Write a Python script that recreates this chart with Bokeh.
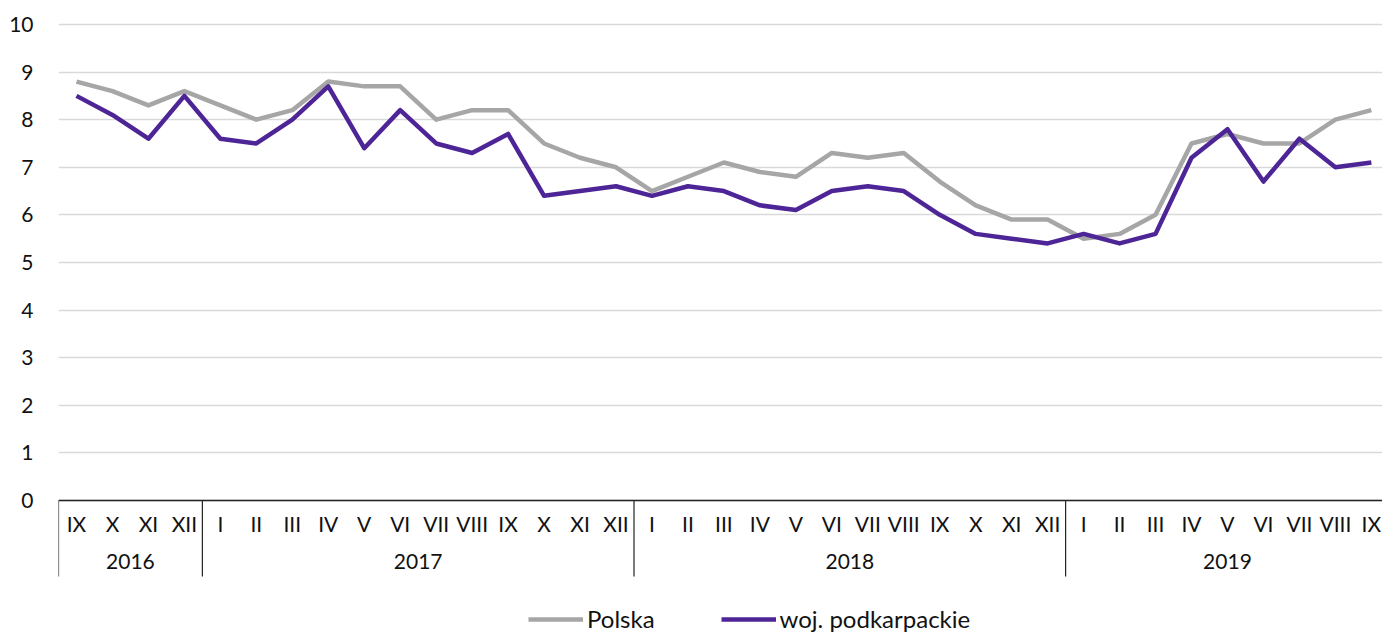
from bokeh.plotting import figure
from bokeh.models import Range1d, FixedTicker, ColumnDataSource, Span, Legend, LegendItem
from bokeh.core.properties import value
from bokeh.embed import file_html
from bokeh.resources import INLINE

roman = ["I", "II", "III", "IV", "V", "VI", "VII", "VIII", "IX", "X", "XI", "XII"]
months = roman[8:] + roman + roman + roman[:9]
years = ["2016"] * 4 + ["2017"] * 12 + ["2018"] * 12 + ["2019"] * 9
polska = [8.8, 8.6, 8.3, 8.6,
          8.3, 8.0, 8.2, 8.8, 8.7, 8.7, 8.0, 8.2, 8.2, 7.5, 7.2, 7.0,
          6.5, 6.8, 7.1, 6.9, 6.8, 7.3, 7.2, 7.3, 6.7, 6.2, 5.9, 5.9,
          5.5, 5.6, 6.0, 7.5, 7.7, 7.5, 7.5, 8.0, 8.2]
podkarpackie = [8.5, 8.1, 7.6, 8.5,
                7.6, 7.5, 8.0, 8.7, 7.4, 8.2, 7.5, 7.3, 7.7, 6.4, 6.5, 6.6,
                6.4, 6.6, 6.5, 6.2, 6.1, 6.5, 6.6, 6.5, 6.0, 5.6, 5.5, 5.4,
                5.6, 5.4, 5.6, 7.2, 7.8, 6.7, 7.6, 7.0, 7.1]
y_ticks = list(range(0, 11))

idx = list(range(len(months)))
LABEL_FONT = "Lato"
TXT = "#111111"

p = figure(width=1382, height=636, output_backend="svg", toolbar_location=None,
           x_range=Range1d(-0.5, 36.31), y_range=Range1d(-2.86, 10.21),
           min_border_left=58, min_border_right=0, min_border_top=14, min_border_bottom=0)
p.outline_line_color = None
p.background_fill_color = "white"
p.border_fill_color = "white"

p.xaxis.visible = False
p.xgrid.visible = False
p.yaxis.ticker = FixedTicker(ticks=y_ticks)
p.ygrid.ticker = FixedTicker(ticks=y_ticks)
p.ygrid.grid_line_color = "#d9d9d9"
p.ygrid.grid_line_width = 1.5
p.yaxis.axis_line_color = None
p.yaxis.major_tick_line_color = None
p.yaxis.minor_tick_line_color = None
p.yaxis.major_label_standoff = 19
p.yaxis.major_label_text_font = LABEL_FONT
p.yaxis.major_label_text_font_size = "21px"
p.yaxis.major_label_text_color = TXT

# x axis line
p.add_layout(Span(location=0, dimension="width", line_color="#222222", line_width=1.5))

# month labels
src = ColumnDataSource(dict(x=idx, y=[0] * len(idx), t=months))
p.text(x="x", y="y", text="t", source=src, y_offset=23, text_align="center",
       text_baseline="middle", text_font=value(LABEL_FONT), text_font_size="21px",
       text_color=TXT)

# year groups
uniq_years = []
for y in years:
    if y not in uniq_years:
        uniq_years.append(y)
centers, bounds = [], [-0.5]
for y in uniq_years:
    ii = [i for i, yy in enumerate(years) if yy == y]
    centers.append((ii[0] + ii[-1]) / 2)
    bounds.append(ii[-1] + 0.5)
p.text(x=centers, y=[0] * len(centers), text=uniq_years, y_offset=61, text_align="center",
       text_baseline="middle", text_font=value(LABEL_FONT), text_font_size="21px",
       text_color=TXT)
p.segment(x0=bounds, y0=[0] * len(bounds), x1=bounds, y1=[-1.6] * len(bounds),
          line_color="#222222", line_width=1.2)

r1 = p.line(idx, polska, line_color="#a6a6a6", line_width=4.5, line_join="round")
r2 = p.line(idx, podkarpackie, line_color="#4e2597", line_width=4.5, line_join="round")

legend = Legend(items=[LegendItem(label="Polska", renderers=[r1]),
                       LegendItem(label="woj. podkarpackie", renderers=[r2])],
                orientation="horizontal", location=(470, 3),
                glyph_width=55, label_standoff=4, spacing=66, padding=0, margin=0,
                border_line_color=None, background_fill_alpha=0,
                label_text_font=LABEL_FONT, label_text_font_size="24px",
                label_text_color=TXT)
p.add_layout(legend)

open("out.html", "w").write(file_html(p, INLINE))
